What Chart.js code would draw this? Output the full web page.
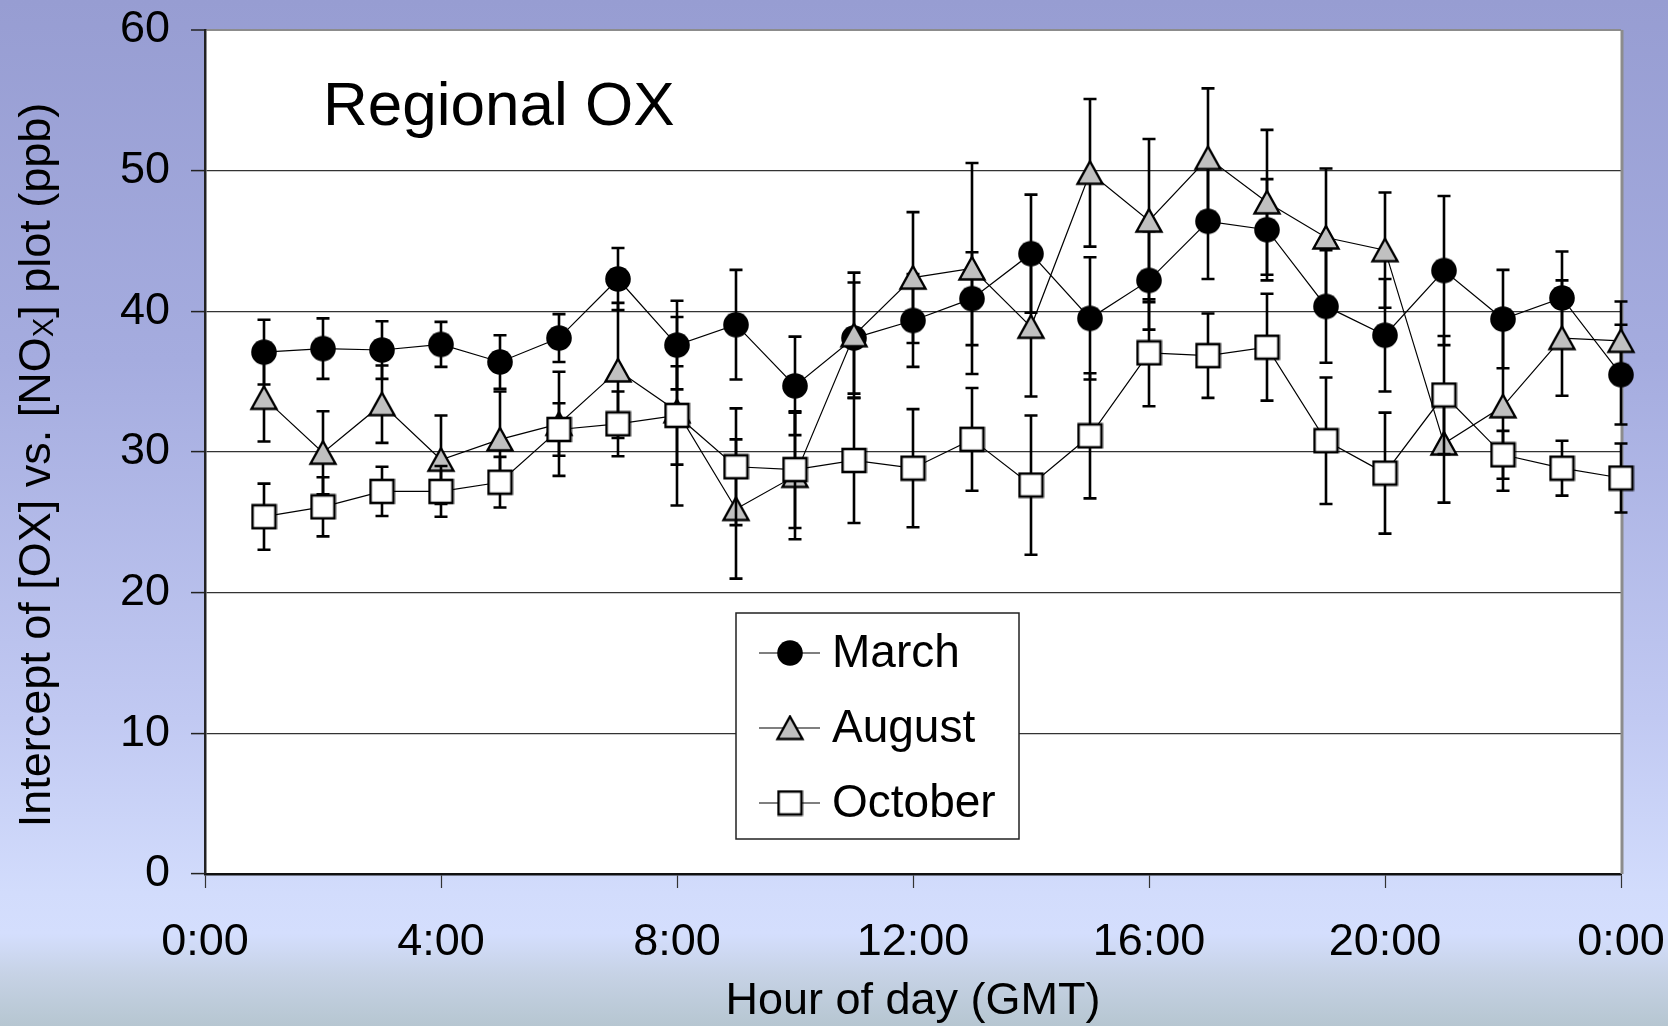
<!DOCTYPE html>
<html>
<head>
<meta charset="utf-8">
<title>Regional OX</title>
<script src="https://cdn.jsdelivr.net/npm/chart.js@4.4.1/dist/chart.umd.min.js"></script>
<style>
  html, body { margin: 0; padding: 0; overflow: hidden; }
  #wrap {
    width: 1668px;
    height: 1026px;
    background: linear-gradient(to bottom, #979dd2 0%, #a5acdf 35%, #c1c9f2 70%, #d2dcfc 87%, #d4defd 91%, #c6d2e5 95%, #b6c6d1 100%);
  }
</style>
</head>
<body>
<div id="wrap"><canvas id="oxChart" width="1668" height="1026"></canvas></div>
<script>
// hour of day (GMT) for every point
const hours = [1, 2, 3, 4, 5, 6, 7, 8, 9, 10, 11, 12, 13, 14, 15, 16, 17, 18, 19, 20, 21, 22, 23, 24];

const marchMean = [37.1, 37.35, 37.25, 37.65, 36.4, 38.1, 42.3, 37.6, 39.05, 34.7, 38.1, 39.35,
                   40.9, 44.1, 39.5, 42.2, 46.4, 45.8, 40.35, 38.3, 42.9, 39.45, 40.95, 35.5];
const marchErr = [2.3, 2.15, 2.05, 1.6, 1.9, 1.7, 2.2, 3.15, 3.9, 3.5, 3.95, 3.3,
                  3.3, 4.2, 4.35, 3.5, 4.1, 3.6, 4.0, 4.0, 5.3, 3.5, 3.3, 3.55];

const augustMean = [33.85, 29.95, 33.4, 29.45, 30.9, 32.0, 35.8, 32.9, 25.95, 28.3, 38.3, 42.4,
                    43.05, 38.9, 49.85, 46.45, 50.9, 47.75, 45.25, 44.35, 30.6, 33.25, 38.1, 37.9];
const augustErr = [3.1, 2.95, 2.75, 3.15, 3.4, 3.7, 4.8, 6.7, 4.95, 4.5, 4.45, 4.65,
                   7.5, 4.95, 5.25, 5.8, 4.95, 5.15, 4.9, 4.1, 4.2, 6.0, 4.1, 2.8];

const octoberMean = [25.4, 26.1, 27.2, 27.2, 27.85, 31.6, 32.0, 32.6, 28.95, 28.75, 29.4, 28.85,
                     30.9, 27.65, 31.15, 37.05, 36.85, 37.45, 30.8, 28.5, 34.05, 29.8, 28.85, 28.15];
const octoberErr = [2.35, 2.1, 1.75, 1.8, 1.8, 1.87, 2.3, 3.5, 4.15, 4.15, 4.45, 4.2,
                    3.65, 4.95, 4.45, 3.8, 3.0, 3.8, 4.5, 4.3, 4.2, 1.7, 1.95, 2.45];

const seriesNames = ['March', 'August', 'October'];
const xTicks = [0, 4, 8, 12, 16, 20, 24];

const FONT = "'Liberation Sans', Arial, sans-serif";

// marker images, centred on their bounding box like the original spreadsheet markers
function makeMarker(kind) {
    const c = document.createElement('canvas');
    const g = c.getContext('2d');
    if (kind === 'circle') {
        c.width = 28; c.height = 28;
        g.fillStyle = '#000';
        g.beginPath();
        g.arc(14, 14, 12.8, 0, Math.PI * 2);
        g.fill();
    } else if (kind === 'triangle') {
        c.width = 30; c.height = 27;
        g.fillStyle = '#c0c0c0';
        g.strokeStyle = '#000';
        g.lineWidth = 2.4;
        g.lineJoin = 'miter';
        g.beginPath();
        g.moveTo(15, 2);
        g.lineTo(27.5, 24.5);
        g.lineTo(2.5, 24.5);
        g.closePath();
        g.fill();
        g.stroke();
    } else {
        c.width = 27; c.height = 27;
        g.fillStyle = '#fff';
        g.strokeStyle = '#000';
        g.lineWidth = 2.6;
        g.fillRect(2, 2, 23, 23);
        g.strokeRect(2, 2, 23, 23);
    }
    return c;
}

const markers = [makeMarker('circle'), makeMarker('triangle'), makeMarker('square')];

function toPoints(means) {
    return hours.map((h, i) => ({ x: h, y: means[i] }));
}

// vertical error bars with caps, drawn just before each series
const errorBars = {
    id: 'errorBars',
    beforeDatasetDraw(chart, args) {
        const ds = chart.data.datasets[args.index];
        const xs = chart.scales.x;
        const ys = chart.scales.y;
        const ctx = chart.ctx;
        ctx.save();
        ctx.strokeStyle = '#000';
        ctx.lineWidth = 2.6;
        ds.means.forEach((m, i) => {
            const x = xs.getPixelForValue(hours[i]);
            const yTop = ys.getPixelForValue(m + ds.errors[i]);
            const yBot = ys.getPixelForValue(m - ds.errors[i]);
            ctx.beginPath();
            ctx.moveTo(x, yTop);
            ctx.lineTo(x, yBot);
            ctx.moveTo(x - 6.5, yTop);
            ctx.lineTo(x + 6.5, yTop);
            ctx.moveTo(x - 6.5, yBot);
            ctx.lineTo(x + 6.5, yBot);
            ctx.stroke();
        });
        ctx.restore();
    }
};

const plotFrame = {
    id: 'plotFrame',
    beforeDraw(chart) {
        const { ctx, chartArea: a } = chart;
        ctx.save();
        ctx.fillStyle = '#fff';
        ctx.fillRect(a.left, a.top, a.right - a.left, a.bottom - a.top);
        ctx.restore();
    },
    beforeDatasetsDraw(chart) {
        const { ctx, chartArea: a } = chart;
        ctx.save();
        ctx.strokeStyle = '#8c8c8c';
        ctx.lineWidth = 3;
        ctx.beginPath();
        ctx.moveTo(a.right + 1, a.top);
        ctx.lineTo(a.right + 1, a.bottom);
        ctx.stroke();
        ctx.restore();
    },
    afterDraw(chart) {
        const ctx = chart.ctx;
        const a = chart.chartArea;
        ctx.save();
        ctx.fillStyle = '#000';

        // panel label
        ctx.font = '62px ' + FONT;
        ctx.textBaseline = 'alphabetic';
        ctx.fillText('Regional OX', a.left + 118, a.top + 95);

        // y axis title with subscript X
        const parts = [
            ['Intercept of [OX] vs. [NO', '45px ' + FONT, 0],
            ['X', '29px ' + FONT, 3],
            ['] plot (ppb)', '45px ' + FONT, 0]
        ];
        let total = 0;
        parts.forEach(p => { ctx.font = p[1]; total += ctx.measureText(p[0]).width; });
        ctx.translate(50, (a.top + a.bottom) / 2 + 13);
        ctx.rotate(-Math.PI / 2);
        let tx = -total / 2;
        parts.forEach(p => {
            ctx.font = p[1];
            ctx.fillText(p[0], tx, p[2]);
            tx += ctx.measureText(p[0]).width;
        });
        ctx.restore();

        // legend box
        const bx = a.left + 531, by = a.top + 583, bw = 283, bh = 226;
        ctx.save();
        ctx.fillStyle = '#fff';
        ctx.fillRect(bx, by, bw, bh);
        ctx.strokeStyle = '#222';
        ctx.lineWidth = 1.5;
        ctx.strokeRect(bx, by, bw, bh);
        ctx.font = '46px ' + FONT;
        ctx.textBaseline = 'middle';
        ctx.fillStyle = '#000';
        seriesNames.forEach((name, i) => {
            const cy = by + 40 + i * 75;
            ctx.strokeStyle = '#000';
            ctx.lineWidth = 1.2;
            ctx.beginPath();
            ctx.moveTo(bx + 23, cy);
            ctx.lineTo(bx + 84, cy);
            ctx.stroke();
            const mk = markers[i];
            ctx.drawImage(mk, bx + 54 - mk.width / 2, cy - mk.height / 2);
            ctx.fillText(name, bx + 96, cy + 1);
        });
        ctx.restore();
    }
};

function makeDataset(i, means, errs) {
    return {
        label: seriesNames[i],
        data: toPoints(means),
        means: means,
        errors: errs,
        borderColor: '#000',
        borderWidth: 1.2,
        pointStyle: markers[i],
        pointRadius: 13,
        pointHoverRadius: 13,
        showLine: true,
        fill: false,
        tension: 0,
        clip: false,
        order: 2 - i
    };
}

const ctx = document.getElementById('oxChart').getContext('2d');
new Chart(ctx, {
    type: 'scatter',
    data: {
        datasets: [
            makeDataset(0, marchMean, marchErr),
            makeDataset(1, augustMean, augustErr),
            makeDataset(2, octoberMean, octoberErr)
        ]
    },
    options: {
        responsive: false,
        animation: false,
        events: [],
        layout: { padding: { left: 0, top: 30, right: 47, bottom: 0 } },
        plugins: {
            legend: { display: false },
            tooltip: { enabled: false },
            title: { display: false }
        },
        scales: {
            x: {
                type: 'linear',
                min: 0,
                max: 24,
                afterBuildTicks: (axis) => { axis.ticks = xTicks.map(v => ({ value: v })); },
                ticks: {
                    callback: (v) => (v % 24) + ':00',
                    font: { family: FONT, size: 45 },
                    color: '#000',
                    padding: 28,
                    maxRotation: 0,
                    autoSkip: false
                },
                grid: {
                    drawOnChartArea: false,
                    drawTicks: true,
                    tickLength: 14,
                    tickColor: '#333',
                    tickWidth: 1.2
                },
                border: { display: true, color: '#111', width: 2.5 },
                title: {
                    display: true,
                    text: 'Hour of day (GMT)',
                    font: { family: FONT, size: 45 },
                    color: '#000',
                    padding: { top: 0, bottom: -3 }
                },
                afterFit: (axis) => {
                    axis.height = 152;
                    axis.paddingLeft = 0;
                    axis.paddingRight = 0;
                }
            },
            y: {
                min: 0,
                max: 60,
                ticks: {
                    stepSize: 10,
                    font: { family: FONT, size: 45 },
                    color: '#000',
                    padding: 21
                },
                grid: {
                    color: (c) => (c.tick && c.tick.value === 60 ? '#8c8c8c' : '#333'),
                    lineWidth: (c) => (c.tick && c.tick.value === 60 ? 2 : 1.2),
                    tickLength: 14,
                    tickColor: '#222',
                    tickWidth: 1.5
                },
                border: { display: true, color: '#222', width: 2.5 },
                afterFit: (axis) => {
                    axis.width = 205;
                    axis.paddingTop = 0;
                    axis.paddingBottom = 0;
                }
            }
        }
    },
    plugins: [plotFrame, errorBars]
});
</script>
</body>
</html>
